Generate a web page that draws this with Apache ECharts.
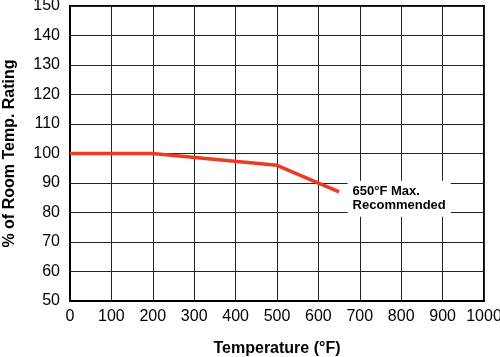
<!DOCTYPE html>
<html><head><meta charset="utf-8">
<script src="https://cdn.jsdelivr.net/npm/echarts@6/dist/echarts.min.js"></script>
<style>html,body{margin:0;padding:0;background:#fff}#c{width:500px;height:357px}</style>
</head><body><div id="c"></div>
<script>
const temps = [0, 200, 500, 650];
const ratings = [100, 100, 96, 87];
const xTicks = [0, 100, 200, 300, 400, 500, 600, 700, 800, 900, 1000];
const yTicks = [50, 60, 70, 80, 90, 100, 110, 120, 130, 140, 150];
const noteText = '650°F Max.\nRecommended';

const chart = echarts.init(document.getElementById('c'));
const font = 'Liberation Sans, Arial, Helvetica, sans-serif';
const last = temps.length - 1;
chart.setOption({
  animation: false,
  grid: {left: 70, right: 16, top: 6, bottom: 56, show: true, borderColor: '#000', borderWidth: 2, containLabel: false, outerBoundsMode: 'none'},
  xAxis: {
    type: 'value', min: xTicks[0], max: xTicks[xTicks.length-1], interval: 100,
    name: 'Temperature (°F)', nameLocation: 'middle', nameGap: 40,
    nameTextStyle: {fontFamily: font, fontWeight: 'bold', fontSize: 16, color: '#000'},
    axisLine: {show: true, lineStyle: {color: '#000', width: 2}},
    axisTick: {show: false},
    axisLabel: {fontFamily: font, fontSize: 16, color: '#000', margin: 8, showMaxLabel: true, formatter: v => String(v)},
    splitLine: {show: true, lineStyle: {color: '#222', width: 1}}
  },
  yAxis: {
    type: 'value', min: yTicks[0], max: yTicks[yTicks.length-1], interval: 10,
    name: '% of Room Temp. Rating', nameLocation: 'middle', nameGap: 52,
    nameTextStyle: {fontFamily: font, fontWeight: 'bold', fontSize: 16, color: '#000'},
    axisLine: {show: true, lineStyle: {color: '#000', width: 2}},
    axisTick: {show: false},
    axisLabel: {fontFamily: font, fontSize: 16, color: '#000', margin: 10, formatter: v => String(v)},
    splitLine: {show: true, lineStyle: {color: '#222', width: 1}}
  },
  series: [{
    type: 'line',
    data: temps.map((t, i) => [t, ratings[i]]),
    symbol: 'none',
    lineStyle: {color: '#ef3a22', width: 3.5},
    z: 5,
    markPoint: {
      symbol: 'circle', symbolSize: 1,
      itemStyle: {color: 'rgba(0,0,0,0)'},
      data: [{
        coord: [temps[last], ratings[last]],
        label: {
          show: true, position: 'right', distance: 8, offset: [0, 7],
          formatter: noteText, fontFamily: font, fontWeight: 'bold', fontSize: 13,
          lineHeight: 14, color: '#000', backgroundColor: '#fff', padding: [4, 5, 4, 5], align: 'left'
        }
      }]
    }
  }]
});
</script></body></html>
